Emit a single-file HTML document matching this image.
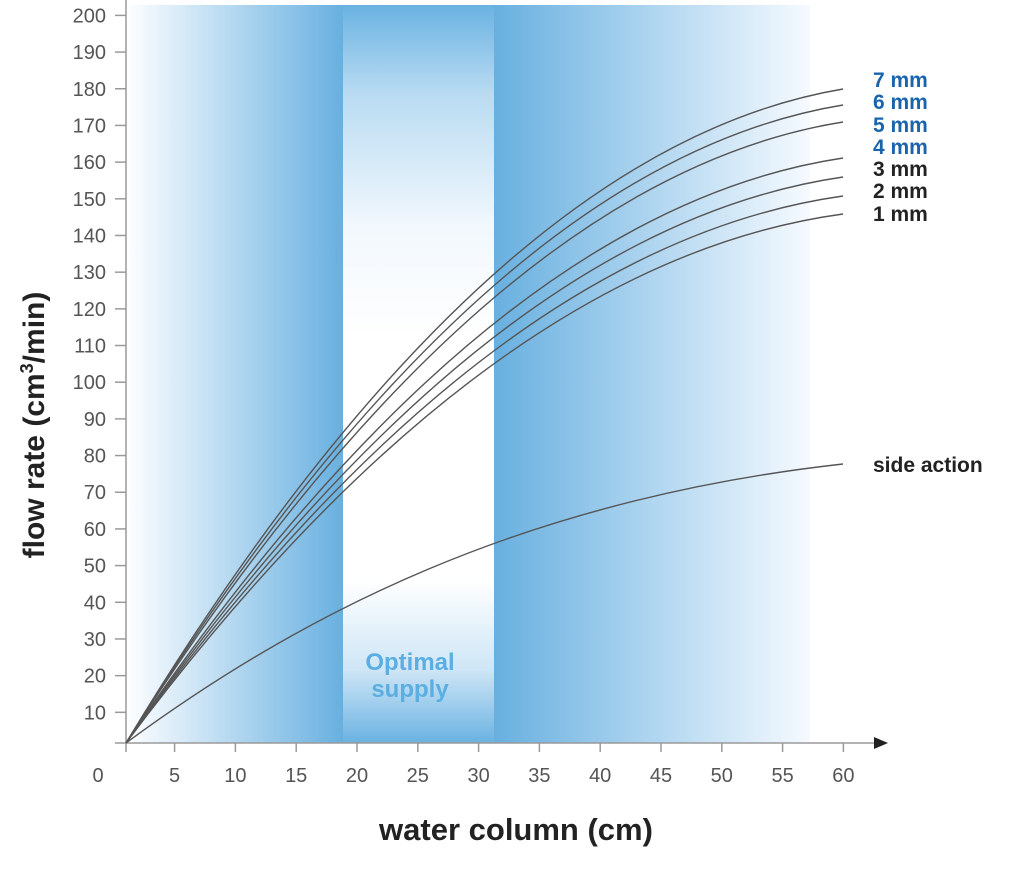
<!DOCTYPE html>
<html><head><meta charset="utf-8"><style>
body{margin:0;background:#fff;}
svg{display:block;font-family:"Liberation Sans",sans-serif;}
</style></head><body>
<svg width="1024" height="875" viewBox="0 0 1024 875">
<defs>
<linearGradient id="gl" x1="0" x2="1" y1="0" y2="0">
<stop offset="0" stop-color="#fbfdff"/><stop offset="1" stop-color="#68b0e0"/></linearGradient>
<linearGradient id="gr" x1="0" x2="1" y1="0" y2="0">
<stop offset="0" stop-color="#68b0e0"/><stop offset="1" stop-color="#f6faff"/></linearGradient>
<linearGradient id="gm" x1="0" x2="0" y1="0" y2="1">
<stop offset="0" stop-color="#6ab2e2"/><stop offset="0.12" stop-color="#b9dbf2"/><stop offset="0.3" stop-color="#f2f8fd"/><stop offset="0.45" stop-color="#ffffff"/><stop offset="0.78" stop-color="#ffffff"/><stop offset="0.9" stop-color="#cfe6f6"/><stop offset="1" stop-color="#6ab2e2"/></linearGradient>
</defs>
<rect x="130" y="5" width="213" height="738" fill="url(#gl)"/>
<rect x="343" y="5" width="151" height="738" fill="url(#gm)"/>
<rect x="494" y="5" width="316" height="738" fill="url(#gr)"/>
<text x="410" y="670" font-size="24" font-weight="bold" fill="#5aaee2" text-anchor="middle">Optimal</text>
<text x="410" y="697" font-size="24" font-weight="bold" fill="#5aaee2" text-anchor="middle">supply</text>
<g stroke="#9a9a9a" stroke-width="1.5" fill="none">
<line x1="126" y1="0" x2="126" y2="752"/>
<line x1="115" y1="743" x2="878" y2="743"/>
</g>
<polygon points="888,743 874,737 874,749" fill="#222"/>
<g stroke="#9a9a9a" stroke-width="1.5" id="yt"></g>
<g font-size="20" fill="#555" text-anchor="end" id="yl"></g>
<g stroke="#9a9a9a" stroke-width="1.5" id="xt"></g>
<g font-size="20" fill="#555" text-anchor="middle" id="xl"></g>
<g fill="none" stroke="#555" stroke-width="1.4" id="cv"></g>
<g font-size="21" font-weight="bold">
<text x="873" y="87" fill="#1a64ad">7 mm</text>
<text x="873" y="109" fill="#1a64ad">6 mm</text>
<text x="873" y="132" fill="#1a64ad">5 mm</text>
<text x="873" y="154" fill="#1a64ad">4 mm</text>
<text x="873" y="176" fill="#222">3 mm</text>
<text x="873" y="198" fill="#222">2 mm</text>
<text x="873" y="221" fill="#222">1 mm</text>
<text x="873" y="472" fill="#222">side action</text>
</g>
<text transform="translate(44,425) rotate(-90)" font-size="30" font-weight="bold" fill="#222" text-anchor="middle">flow rate (cm<tspan font-size="18" dy="-11">3</tspan><tspan dy="11">/min)</tspan></text>
<text x="516" y="840" font-size="31" font-weight="bold" fill="#222" text-anchor="middle">water column (cm)</text>
<text x="98" y="782" font-size="20" fill="#555" text-anchor="middle">0</text>
</svg>
<script>
var ns="http://www.w3.org/2000/svg";
function el(p,t,a,txt){var e=document.createElementNS(ns,t);for(var k in a)e.setAttribute(k,a[k]);if(txt!==undefined)e.textContent=txt;document.getElementById(p).appendChild(e);}
for(var v=10;v<=200;v+=10){var y=749-(v)*3.668;el("yt","line",{x1:115,x2:126,y1:y,y2:y});el("yl","text",{x:106,y:y+7},v);}
for(var c=5;c<=60;c+=5){var x=113.8+c*12.16;el("xt","line",{x1:x,x2:x,y1:743,y2:752});el("xl","text",{x:x,y:782},c);}
var ends=[89,105,122,158,177,196,214];
ends.forEach(function(e){var dy=743-e;var cy=743-594.6*dy/655;el("cv","path",{d:"M126,743 Q484.5,"+cy+" 843,"+e});});
el("cv","path",{d:"M126,743 C300,615 520,500 843,464"});
</script>
</body></html>
